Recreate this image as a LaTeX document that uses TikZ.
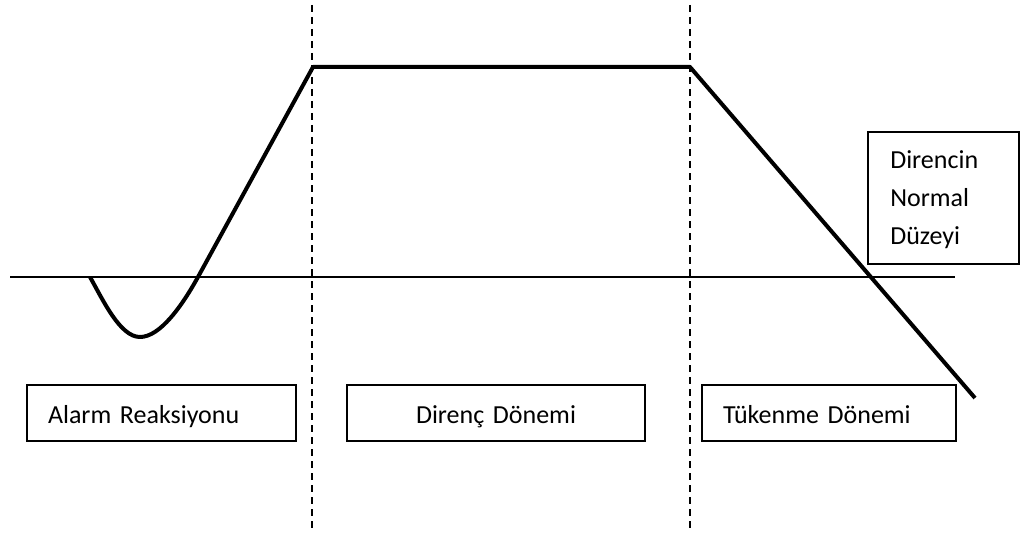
\documentclass[tikz,border=0pt]{standalone}
\usepackage{fontspec}
\setmainfont{Carlito}
\begin{document}
\begin{tikzpicture}[x=0.75pt,y=-0.75pt,
  txt/.style={font=\fontsize{19.5}{28.5}\selectfont},
  box/.style={draw=black, line width=1.1pt, inner xsep=15.75pt, inner ysep=0pt,
    minimum height=42pt, align=left, text height=18pt, text depth=3pt, txt},
  frame/.style={draw=black, line width=1.1pt, inner sep=0pt},
  thinline/.style={line width=1.1pt},
  curveline/.style={line width=3pt, line join=round},
  dashline/.style={line width=1.3pt, dash pattern=on 5.5pt off 3.5pt}]
\useasboundingbox (0,0) rectangle (1022,535);
% reference coordinates
\coordinate (h0) at (10,277);
\coordinate (h1) at (955,277);
\coordinate (d1t) at (312,5);
\coordinate (d1b) at (312,530);
\coordinate (d2t) at (690,5);
\coordinate (d2b) at (690,530);
\coordinate (c0) at (90,277);
\coordinate (cmin) at (140,337);
\coordinate (cx) at (198,277);
\coordinate (p1) at (313,67);
\coordinate (p2) at (690,67);
\coordinate (pe) at (975,398);
% dashed separators
\draw[dashline] (d1t) -- (d1b);
\draw[dashline] (d2t) -- (d2b);
% baseline
\draw[thinline] (h0) -- (h1);
% resistance curve
\draw[curveline] (c0) .. controls (103,300) and (120,337) .. (cmin)
  .. controls (160,337) and (182,306) .. (cx) -- (p1) -- (p2) -- (pe);
% boxes
\node[box, text width=170.25pt] (alarm) at (161.5,413) {Alarm Reaksiyonu};
\node[box, text width=192pt, align=center] (direnc) at (496,413) {Direnç Dönemi};
\node[box, text width=159pt] (tukenme) at (829,413) {Tükenme Dönemi};
\node[frame, minimum width=113.25pt, minimum height=99pt] (normal) at (943.5,198) {};
\node[txt, anchor=base west, inner sep=0pt] (n1) at (890,168) {Direncin};
\node[txt, anchor=base west, inner sep=0pt] (n2) at (890,206) {Normal};
\node[txt, anchor=base west, inner sep=0pt] (n3) at (890,244) {Düzeyi};
\end{tikzpicture}
\end{document}
